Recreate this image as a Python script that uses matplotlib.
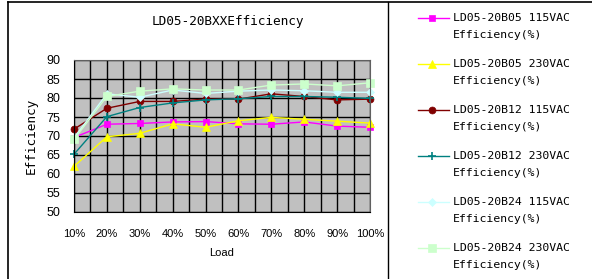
import numpy as np
import matplotlib
matplotlib.use("Agg")
import matplotlib.pyplot as plt
from matplotlib.lines import Line2D

# data
loads = ["10%", "20%", "30%", "40%", "50%", "60%", "70%", "80%", "90%", "100%"]
b05_115 = [69.6, 73.1, 73.3, 73.7, 73.8, 73.2, 73.1, 73.7, 72.6, 72.3]
b05_230 = [62.0, 69.8, 70.7, 73.2, 72.3, 74.0, 74.9, 74.4, 73.9, 73.4]
b12_115 = [71.8, 77.3, 79.1, 79.1, 79.7, 79.7, 81.1, 80.4, 79.5, 79.7]
b12_230 = [65.2, 75.1, 77.5, 78.7, 79.5, 79.8, 80.4, 80.4, 80.2, 79.9]
b24_115 = [69.5, 81.1, 80.2, 82.1, 81.2, 81.8, 82.1, 81.9, 81.5, 81.5]
b24_230 = [69.1, 80.4, 81.8, 82.4, 82.1, 82.1, 83.4, 83.7, 83.2, 84.0]

names = ["LD05-20B05 115VAC", "LD05-20B05 230VAC", "LD05-20B12 115VAC",
         "LD05-20B12 230VAC", "LD05-20B24 115VAC", "LD05-20B24 230VAC"]
series = [b05_115, b05_230, b12_115, b12_230, b24_115, b24_230]
colors = ["#ff00ff", "#ffff00", "#800000", "#008080", "#ccffff", "#ccffcc"]
markers = ["s", "^", "o", "+", "D", "s"]
msizes = [5, 6, 5, 6, 4, 5.5]

W, H = 592, 279
fig = plt.figure(figsize=(W / 100, H / 100), dpi=100)

def px(x0, y0, x1, y1):
    return [x0 / W, 1 - y1 / H, (x1 - x0) / W, (y1 - y0) / H]

# frame
fig.add_artist(Line2D([8 / W, 8 / W], [0, 1 - 2 / H], color="black", lw=1.2))
fig.add_artist(Line2D([8 / W, 1], [1 - 2 / H, 1 - 2 / H], color="black", lw=1.2))
fig.add_artist(Line2D([388 / W, 388 / W], [0, 1 - 2 / H], color="black", lw=1.0))

ax = fig.add_axes(px(74, 60, 370, 212))
ax.set_facecolor("#c0c0c0")
x = np.arange(len(loads))
for s, c, m, ms in zip(series, colors, markers, msizes):
    ax.plot(x, s, color=c, marker=m, markersize=ms, lw=1.0,
            markeredgewidth=1.2 if m == "+" else 0.5, clip_on=False)

ax.set_xlim(0, len(loads) - 1)
ax.set_ylim(50, 90)
ax.set_xticks(x)
ax.set_xticklabels(loads, fontsize=8, family="Liberation Sans")
ax.set_xticks(np.arange(0, len(loads) - 1, 0.5), minor=True)
ax.set_yticks(np.arange(50, 91, 5))
ax.tick_params(axis="y", labelsize=9, length=0, pad=10)
ax.tick_params(axis="x", which="both", length=0, pad=12)
for lab in ax.get_yticklabels():
    lab.set_family("Liberation Sans")
ax.grid(True, which="both", axis="x", color="black", lw=1.0)
ax.grid(True, which="major", axis="y", color="black", lw=1.0)
for sp in ax.spines.values():
    sp.set_color("#606060")
ax.spines["left"].set_color("black")
ax.spines["bottom"].set_color("black")
ax.set_axisbelow(True)

ax.set_xlabel("Load", fontsize=8, family="Liberation Sans", labelpad=7)
ax.set_ylabel("Efficiency", fontsize=9.2, family="DejaVu Sans Mono", labelpad=6)
fig.text(228 / W, 1 - 22 / H, "LD05-20BXXEfficiency", fontsize=9.2,
         family="DejaVu Sans Mono", ha="center", va="center")

# legend drawn by hand so the handle sits on the first text line
for i, (nm, c, m, ms) in enumerate(zip(names, colors, markers, msizes)):
    yy = 1 - (18 + i * 46) / H
    fig.add_artist(Line2D([418 / W, 449 / W], [yy, yy], color=c, lw=1.0))
    fig.add_artist(Line2D([432 / W], [yy], color=c, marker=m, markersize=ms,
                          markeredgewidth=1.2 if m == "+" else 0.5, lw=0))
    fig.text(453 / W, yy, nm, fontsize=8.25, family="DejaVu Sans Mono", va="center")
    fig.text(453 / W, yy - 17 / H, "Efficiency(%)", fontsize=8.25,
             family="DejaVu Sans Mono", va="center")

fig.savefig("out.png", dpi=100)
